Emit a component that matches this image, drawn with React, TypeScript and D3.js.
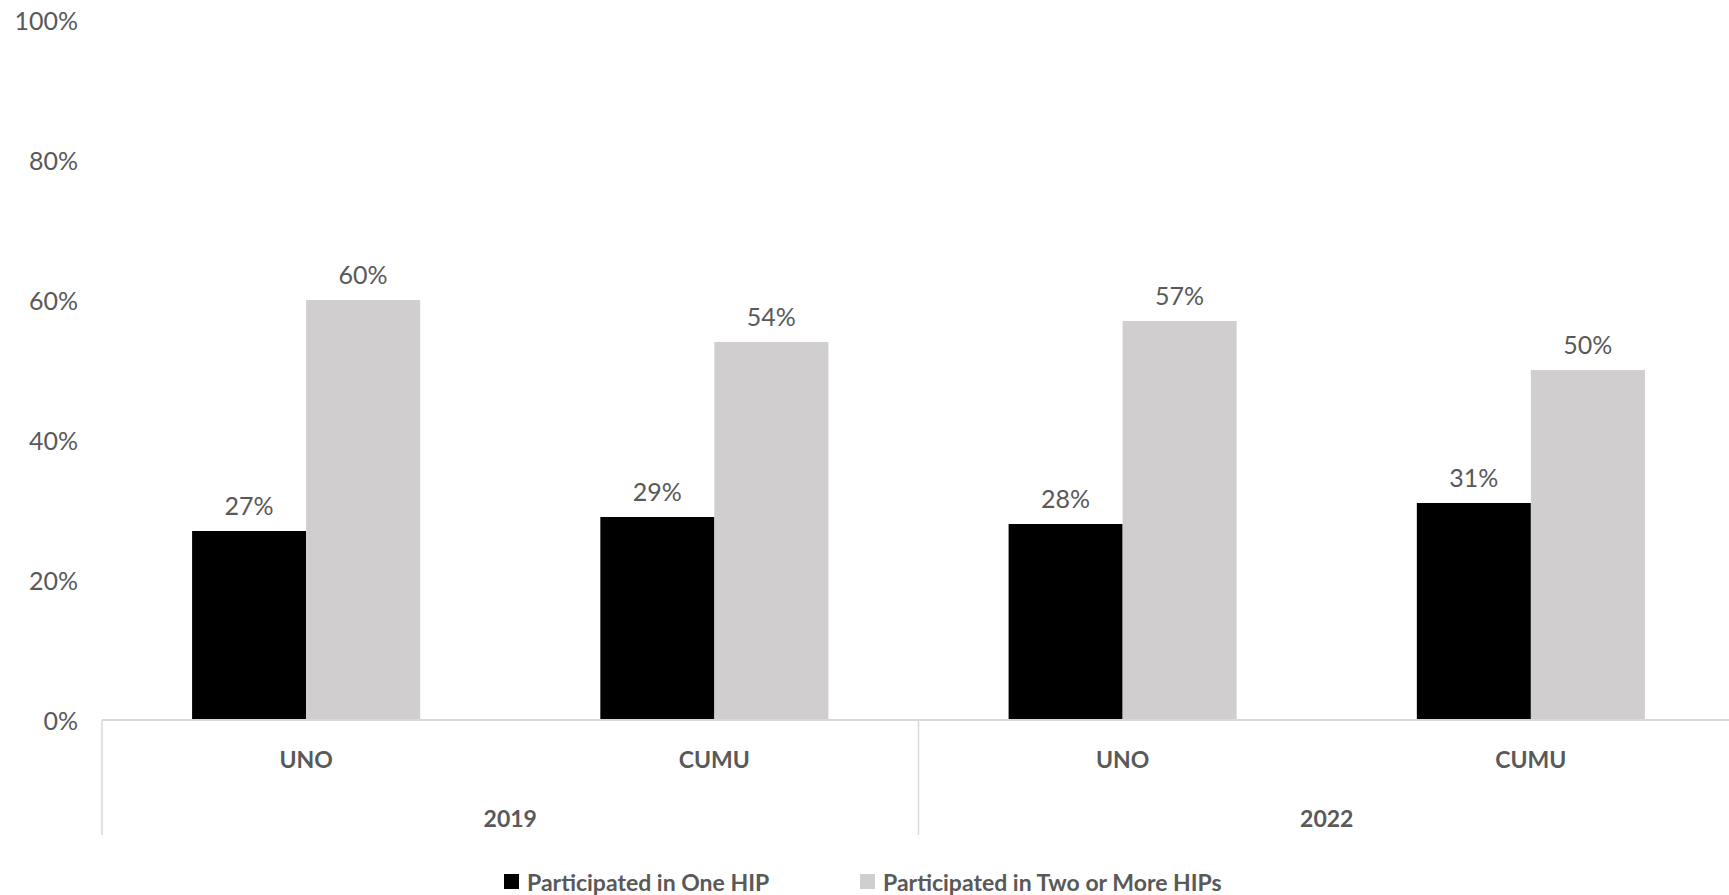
import React from "react";
import * as d3 from "d3";

// chart data
const years = ["2019", "2022"];
const schools = ["UNO", "CUMU", "UNO", "CUMU"];
const schoolYears = ["2019", "2019", "2022", "2022"];
const oneHip = [27, 29, 28, 31];
const twoOrMoreHips = [60, 54, 57, 50];
const seriesNames = ["Participated in One HIP", "Participated in Two or More HIPs"];
const seriesColors = ["#000000", "#d0cece"];
const yTicks = [0, 20, 40, 60, 80, 100];

const W = 1729;
const H = 895;
const margin = { top: 20, right: -6, bottom: 175, left: 102 };
const textColor = "#595959";
const axisColor = "#d9d9d9";
const font = "Lato, 'Open Sans', sans-serif";

const App = () => {
  const keys = schools.map((s, i) => `${schoolYears[i]}-${s}`);
  const values = [oneHip, twoOrMoreHips];
  const baseY = H - margin.bottom;

  const x0 = d3
    .scaleBand<string>()
    .domain(keys)
    .range([margin.left, W - margin.right])
    .paddingInner(0)
    .paddingOuter(0);

  const x1 = d3
    .scaleBand<number>()
    .domain([0, 1])
    .range([0, x0.bandwidth()])
    .paddingInner(0)
    .paddingOuter(0.79);

  const y = d3.scaleLinear().domain([0, 100]).range([baseY, margin.top]);

  const fmt = (v: number) => `${v}%`;

  // group separators (start of each year + end)
  const yearEdges = years.map((yr) => {
    const first = keys[schoolYears.indexOf(yr)];
    return x0(first) as number;
  });
  yearEdges.push(W - margin.right);

  return (
    <svg
      width={W}
      height={H}
      style={{ position: "absolute", left: 0, top: 0, background: "#fff" }}
      fontFamily={font}
    >
      {/* y axis labels */}
      {yTicks.map((t) => (
        <text
          key={t}
          x={margin.left - 24}
          y={y(t)}
          textAnchor="end"
          dominantBaseline="central"
          fontSize={25}
          fill={textColor}
        >
          {fmt(t)}
        </text>
      ))}

      {/* bars */}
      {keys.map((k, i) => (
        <g key={k} transform={`translate(${x0(k)},0)`}>
          {values.map((vals, s) => (
            <g key={s}>
              <rect
                x={x1(s)}
                y={y(vals[i])}
                width={x1.bandwidth()}
                height={baseY - y(vals[i])}
                fill={seriesColors[s]}
              />
              <text
                x={(x1(s) as number) + x1.bandwidth() / 2}
                y={y(vals[i]) - 16}
                textAnchor="middle"
                fontSize={25}
                fill={textColor}
              >
                {fmt(vals[i])}
              </text>
            </g>
          ))}
        </g>
      ))}

      {/* category axis */}
      <line x1={margin.left} x2={W} y1={baseY} y2={baseY} stroke={axisColor} strokeWidth={2} />
      {yearEdges.map((ex, i) => (
        <line key={i} x1={ex} x2={ex} y1={baseY} y2={baseY + 115} stroke={axisColor} strokeWidth={1.5} />
      ))}
      {keys.map((k, i) => (
        <text
          key={k}
          x={(x0(k) as number) + x0.bandwidth() / 2}
          y={baseY + 39}
          textAnchor="middle"
          dominantBaseline="central"
          fontSize={23}
          fontWeight="bold"
          fill={textColor}
        >
          {schools[i]}
        </text>
      ))}
      {years.map((yr, i) => (
        <text
          key={yr}
          x={(yearEdges[i] + yearEdges[i + 1]) / 2}
          y={baseY + 98}
          textAnchor="middle"
          dominantBaseline="central"
          fontSize={23}
          fontWeight="bold"
          fill={textColor}
        >
          {yr}
        </text>
      ))}

      {/* legend */}
      {seriesNames.map((name, s) => {
        const lx = [504, 860][s];
        return (
          <g key={name} transform={`translate(${lx},882)`}>
            <rect x={0} y={-8} width={15} height={15} fill={seriesColors[s]} />
            <text x={23} y={0} dominantBaseline="central" fontSize={23} fontWeight="bold" fill={textColor}>
              {name}
            </text>
          </g>
        );
      })}
    </svg>
  );
};

export default App;
